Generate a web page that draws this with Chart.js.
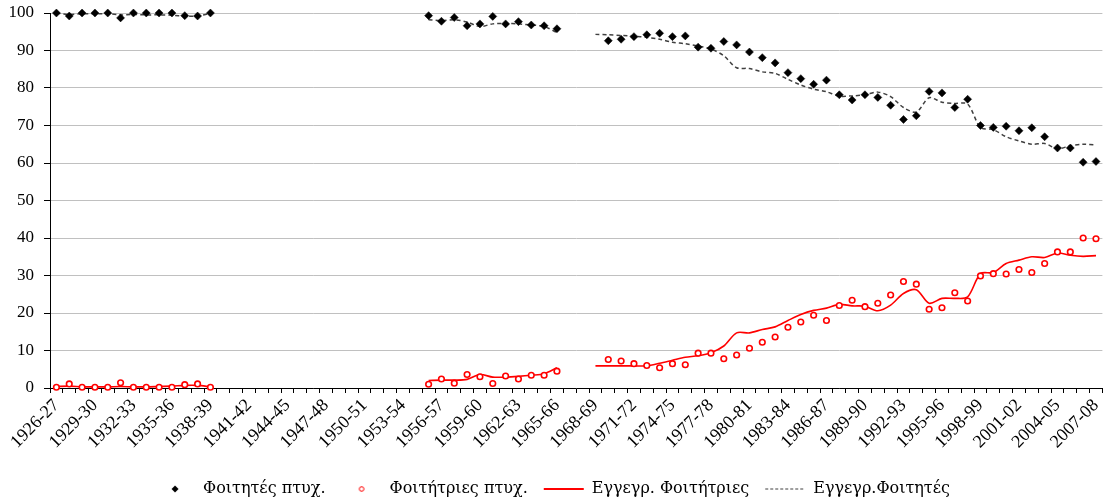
<!DOCTYPE html>
<html>
<head>
<meta charset="utf-8">
<script src="https://cdn.jsdelivr.net/npm/chart.js@4.4.0/dist/chart.umd.min.js"></script>
<style>
  html, body { margin: 0; padding: 0; background: #fff; }
</style>
</head>
<body>
<canvas id="chart" width="1108" height="501"></canvas>
<script>
// academic years, one category per year
const years = [
  '1926-27','1927-28','1928-29','1929-30','1930-31','1931-32','1932-33','1933-34','1934-35','1935-36',
  '1936-37','1937-38','1938-39','1939-40','1940-41','1941-42','1942-43','1943-44','1944-45','1945-46',
  '1946-47','1947-48','1948-49','1949-50','1950-51','1951-52','1952-53','1953-54','1954-55','1955-56',
  '1956-57','1957-58','1958-59','1959-60','1960-61','1961-62','1962-63','1963-64','1964-65','1965-66',
  '1966-67','1967-68','1968-69','1969-70','1970-71','1971-72','1972-73','1973-74','1974-75','1975-76',
  '1976-77','1977-78','1978-79','1979-80','1980-81','1981-82','1982-83','1983-84','1984-85','1985-86',
  '1986-87','1987-88','1988-89','1989-90','1990-91','1991-92','1992-93','1993-94','1994-95','1995-96',
  '1996-97','1997-98','1998-99','1999-00','2000-01','2001-02','2002-03','2003-04','2004-05','2005-06',
  '2006-07','2007-08'
];

const yTicks = [0, 10, 20, 30, 40, 50, 60, 70, 80, 90, 100];

// graduates, men (%) -- 1926-27..1938-39, 1955-56..1965-66, 1969-70..2007-08
const menGrad1 = [100, 99.2, 100, 100, 100, 98.7, 100, 100, 100, 100, 99.3, 99.2, 100];
const menGrad2 = [99.3, 97.8, 98.8, 96.6, 97.1, 99.1, 97.1, 97.7, 96.8, 96.6, 95.8];
const menGrad3 = [92.6, 93.0, 93.7, 94.2, 94.6, 93.7, 93.9, 90.9, 90.6, 92.4, 91.5, 89.6, 88.1, 86.7,
  84.1, 82.5, 81.0, 82.1, 78.2, 76.8, 78.2, 77.5, 75.4, 71.6, 72.6, 79.1, 78.7, 74.8, 77.0, 70.0,
  69.5, 69.8, 68.6, 69.4, 67.0, 64.0, 64.0, 60.2, 60.4];

// graduates, women (%)
const womenGrad1 = [0.2, 1.1, 0.2, 0.2, 0.2, 1.4, 0.2, 0.2, 0.2, 0.2, 0.9, 1.1, 0.2];
const womenGrad2 = [1.0, 2.4, 1.3, 3.6, 3.0, 1.2, 3.2, 2.4, 3.4, 3.4, 4.5];
const womenGrad3 = [7.6, 7.2, 6.5, 6.0, 5.4, 6.5, 6.2, 9.3, 9.3, 7.8, 8.8, 10.6, 12.2, 13.6,
  16.2, 17.6, 19.4, 18.0, 22.0, 23.4, 21.7, 22.6, 24.8, 28.4, 27.7, 21.0, 21.4, 25.4, 23.2, 29.9,
  30.5, 30.4, 31.6, 30.8, 33.2, 36.3, 36.3, 40.0, 39.8];

// enrolled, women (%) -- third block starts one year earlier (1968-69)
const womenEnr1 = [0.4, 0.5, 0.3, 0.3, 0.3, 0.4, 0.3, 0.3, 0.4, 0.5, 0.7, 0.7, 0.3];
const womenEnr2 = [2.0, 2.1, 2.1, 2.3, 3.6, 2.9, 2.9, 3.1, 3.4, 3.8, 5.4];
const womenEnr3 = [5.9, 5.9, 5.9, 5.9, 5.9, 6.6, 7.4, 8.2, 8.6, 9.4, 11.2, 14.7,
  14.7, 15.6, 16.3, 18.0, 19.6, 20.7, 21.3, 22.3, 21.9, 21.8, 20.6, 22.1, 25.2, 26.2, 22.6, 23.9,
  23.9, 24.3, 30.5, 30.8, 33.2, 34.1, 35.0, 34.8, 36.0, 35.4, 35.1, 35.3];

// enrolled, men (%)
const menEnr1 = [100, 99.6, 99.8, 99.8, 99.8, 99.5, 99.6, 99.5, 99.5, 99.4, 99.2, 99.2, 99.9];
const menEnr2 = [98.2, 98.0, 98.2, 97.6, 96.4, 97.1, 97.2, 97.1, 96.8, 96.4, 94.8];
const menEnr3 = [94.3, 94.2, 94.0, 93.8, 93.5, 93.0, 92.2, 91.8, 91.2, 90.4, 88.6, 85.4, 85.2, 84.3,
  83.9, 82.3, 80.8, 79.7, 79.0, 77.8, 77.9, 78.2, 78.9, 77.7, 74.8, 73.6, 77.4, 76.2, 75.9, 75.7,
  69.5, 68.9, 67.0, 65.9, 65.0, 65.2, 63.8, 64.6, 65.0, 64.8];

const gap = n => new Array(n).fill(null);
// blocks: 0-12, 29-39, then 42 (enrolled) / 43 (graduates) to 81
const gradSeries = (a, b, c) => [...a, ...gap(16), ...b, ...gap(3), ...c];
const enrSeries = (a, b, c) => [...a, ...gap(16), ...b, ...gap(2), ...c];

const font = 'Liberation Serif, Times New Roman, serif';
const legendFont = 'DejaVu Serif, serif';

function marker(draw) {
  const c = document.createElement('canvas');
  c.width = 10; c.height = 10;
  draw(c.getContext('2d'));
  return c;
}
const diamondImg = marker(g => {
  g.fillStyle = '#000';
  g.beginPath(); g.moveTo(5, 1.5); g.lineTo(8.5, 5); g.lineTo(5, 8.5); g.lineTo(1.5, 5); g.closePath(); g.fill();
});
const circleImg = marker(g => {
  g.strokeStyle = '#ff0000'; g.lineWidth = 1;
  g.beginPath(); g.arc(5, 5, 2.3, 0, Math.PI * 2); g.stroke();
});

new Chart(document.getElementById('chart'), {
  type: 'line',
  data: {
    labels: years,
    datasets: [
      {
        label: 'Φοιτητές πτυχ.',
        data: gradSeries(menGrad1, menGrad2, menGrad3),
        showLine: false,
        clip: false,
        pointStyle: 'rectRot',
        pointRadius: 4,
        pointBackgroundColor: '#000',
        pointBorderColor: '#000',
        pointBorderWidth: 0.5,
        borderColor: '#000',
        backgroundColor: '#000'
      },
      {
        label: 'Φοιτήτριες πτυχ.',
        data: gradSeries(womenGrad1, womenGrad2, womenGrad3),
        showLine: false,
        clip: false,
        pointStyle: 'circle',
        pointRadius: 2.8,
        pointBackgroundColor: '#fff',
        pointBorderColor: '#ff0000',
        pointBorderWidth: 1.6,
        borderColor: '#ff0000',
        backgroundColor: '#fff'
      },
      {
        label: 'Εγγεγρ. Φοιτήτριες',
        data: enrSeries(womenEnr1, womenEnr2, womenEnr3),
        borderColor: '#ff0000',
        borderWidth: 1.6,
        pointRadius: 0,
        tension: 0.3,
        spanGaps: false
      },
      {
        label: 'Εγγεγρ.Φοιτητές',
        data: enrSeries(menEnr1, menEnr2, menEnr3),
        borderColor: '#404040',
        borderWidth: 1.5,
        borderDash: [4, 3],
        pointRadius: 0,
        tension: 0.3,
        spanGaps: false
      }
    ]
  },
  options: {
    responsive: false,
    animation: false,
    devicePixelRatio: 1,
    layout: { padding: { top: 13, right: 3, bottom: -6, left: 0 } },
    scales: {
      x: {
        offset: true,
        grid: { display: true, drawOnChartArea: false, drawTicks: true, tickLength: 5, offset: true, tickColor: '#000' },
        border: { color: '#000', width: 1 },
        ticks: {
          autoSkip: false,
          maxRotation: 45,
          minRotation: 45,
          padding: 2,
          color: '#000',
          font: { family: font, size: 18 },
          callback: (v, i) => (i % 3 === 0 ? years[i] : '')
        },
        afterFit: s => { s.height = 77; s.paddingLeft = 0; s.paddingRight = 0; }
      },
      y: {
        min: 0,
        max: 100,
        afterBuildTicks: s => { s.ticks = yTicks.map(v => ({ value: v })); },
        grid: { color: '#c0c0c0', lineWidth: 1, tickLength: 6, tickColor: '#000' },
        border: { color: '#000', width: 1 },
        ticks: { color: '#000', padding: 10, font: { family: font, size: 17 } },
        afterFit: s => { s.width = 50; s.paddingTop = 0; s.paddingBottom = 0; }
      }
    },
    plugins: {
      tooltip: { enabled: false },
      legend: {
        position: 'bottom',
        labels: {
          color: '#000',
          font: { family: legendFont, size: 16 },
          usePointStyle: true,
          pointStyleWidth: 40,
          boxHeight: 8,
          padding: 16,
          generateLabels: chart => {
            const items = Chart.defaults.plugins.legend.labels.generateLabels(chart);
            items[0].pointStyle = diamondImg;
            items[1].pointStyle = circleImg;
            items[2].pointStyle = 'line';
            items[2].lineWidth = 2;
            items[2].strokeStyle = '#ff0000';
            items[3].pointStyle = 'line';
            items[3].lineWidth = 1.2;
            items[3].strokeStyle = '#404040';
            items[3].lineDash = [3, 2];
            return items;
          }
        }
      }
    }
  }
});
</script>
</body>
</html>
